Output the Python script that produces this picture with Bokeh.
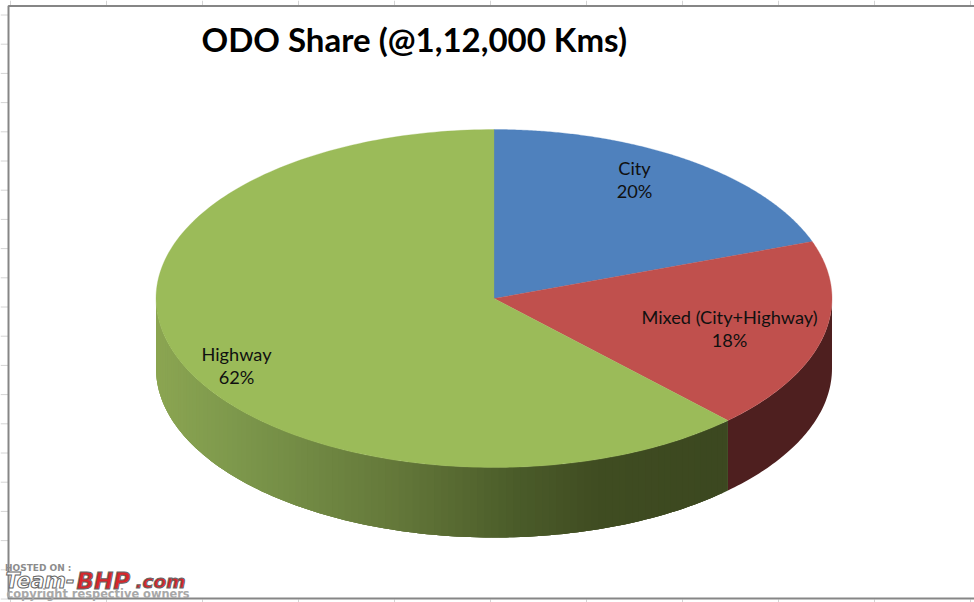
import numpy as np
from bokeh.plotting import figure
from bokeh.models import Label, Range1d
from bokeh.embed import file_html
from bokeh.resources import INLINE

# ---- data
categories = ["City", "Mixed (City+Highway)", "Highway"]
shares = [20, 18, 62]
title_text = "ODO Share (@1,12,000 Kms)"

# ---- styles and layout
top_colors = ["#4f81bd", "#c0504d", "#9bbb59"]
CX, CY, RX, RY, DEPTH = 493.5, 298.0, 338.0, 169.0, 70.0
label_xy = [(634, 167), (729, 316), (236, 353)]
LINE_GAP = 23
side_x = [155, 240, 400, 520, 600, 727]
side_r = [140, 125, 100, 75, 64, 60]
side_g = [166, 152, 120, 92, 77, 72]
side_b = [82, 76, 58, 42, 34, 32]
mixed_side = "#4e1f1f"
# the 3-D view foreshortens the angles a little
warp_in = np.radians([0, 72, 137, 360])
warp_out = np.radians([0, -1.7, -0.6, 0])

W, H = 974, 602
p = figure(width=W, height=H, output_backend="svg", toolbar_location=None,
           x_range=Range1d(0, W), y_range=Range1d(H, 0),
           min_border=0, outline_line_color=None)
p.xaxis.visible = False
p.yaxis.visible = False
p.grid.visible = False

# worksheet ticks outside the chart frame
tx = np.arange(10, W, 96)
p.segment(tx, 0, tx, 5, line_color="#d4d4d4", line_width=1)
p.segment(tx, 599, tx, 602, line_color="#d4d4d4", line_width=1)
ty = np.arange(14.5, H, 29.2)
p.segment(0, ty, 8, ty, line_color="#d4d4d4", line_width=1)
# chart frame
p.line([W, 8, 8, W], [5.5, 5.5, 598, 598], line_color="#868686", line_width=2)


def pt(a, dy=0.0):
    return CX + RX * np.sin(a), CY - RY * np.cos(a) + dy


fr = np.cumsum([0] + shares) / sum(shares) * 2 * np.pi
fr = fr + np.interp(fr, warp_in, warp_out)

# side wall: mixed wedge
a = np.linspace(np.pi / 2, fr[2], 60)
x0, y0 = pt(a)
x1, y1 = pt(a[::-1], DEPTH)
p.patch(np.r_[x0, x1], np.r_[y0, y1], fill_color=mixed_side, line_color=None)

# side wall: highway wedge, shaded in overlapping strips painted in order
edges = np.linspace(fr[2], 1.5 * np.pi, 110)
xs, ys, cols = [], [], []
for j in range(len(edges) - 1):
    t = np.linspace(edges[j], edges[min(j + 3, len(edges) - 1)], 4)
    xa, ya = pt(t)
    xb, yb = pt(t[::-1], DEPTH)
    xs.append(np.r_[xa, xb])
    ys.append(np.r_[ya, yb])
    cols.append("#%02x%02x%02x" % tuple(int(np.interp(xa[0], side_x, c))
                                        for c in (side_r, side_g, side_b)))
p.patches(xs, ys, fill_color=cols, line_color=None)

# top face
for i, c in enumerate(top_colors):
    a = np.linspace(fr[i], fr[i + 1], 200)
    x, y = pt(a)
    p.patch(np.r_[CX, x], np.r_[CY, y], fill_color=c, line_color=c, line_width=0.3)

# slice labels
for name, v, (lx, ly) in zip(categories, shares, label_xy):
    for k, s in enumerate([name, f"{v}%"]):
        p.add_layout(Label(x=lx, y=ly + k * LINE_GAP, text=s, text_font="Lato", text_font_size="18.2px",
                           text_color="#101010", text_align="center", text_baseline="middle"))

# title
p.add_layout(Label(x=201, y=38, text=title_text, text_font="Lato", text_font_style="bold",
                   text_font_size="33px", text_color="#000000", text_align="left", text_baseline="middle"))

# hosting watermark
p.add_layout(Label(x=4.5, y=567, text="HOSTED ON :", text_font="DejaVu Sans", text_font_style="bold",
                   text_font_size="9px", text_color="#8c8c8c", text_baseline="middle"))
p.add_layout(Label(x=5, y=580, text="Team-", text_font="DejaVu Sans", text_font_style="bold italic",
                   text_font_size="20.5px", text_color="#ffffff", text_outline_color="#666666", text_baseline="middle"))
p.add_layout(Label(x=76, y=580, text="BHP", text_font="DejaVu Sans", text_font_style="bold italic",
                   text_font_size="23px", text_color="#d8262c", text_outline_color="#666666", text_baseline="middle"))
p.add_layout(Label(x=135, y=581, text=".com", text_font="DejaVu Sans", text_font_style="bold italic",
                   text_font_size="18.5px", text_color="#d8262c", text_outline_color="#666666", text_baseline="middle"))
p.add_layout(Label(x=6, y=593, text="copyright respective owners", text_font="DejaVu Sans", text_font_style="bold",
                   text_font_size="11.4px", text_color="#a8a8a8", text_baseline="middle"))

open("out.html", "w").write(file_html(p, INLINE))
